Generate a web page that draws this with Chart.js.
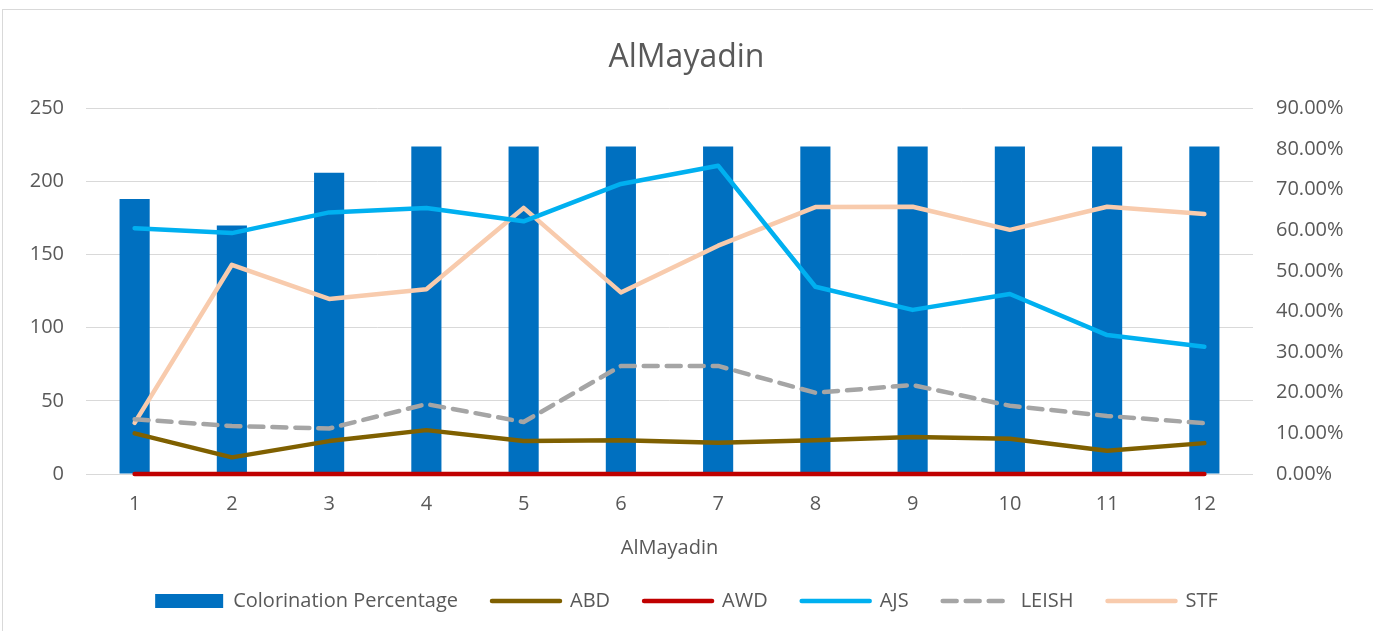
<!DOCTYPE html>
<html>
<head>
<meta charset="utf-8">
<script src="https://cdn.jsdelivr.net/npm/chart.js@4"></script>
<style>
	html, body { margin: 0; padding: 0; background: #fff; overflow: hidden; }
	#frame { position: absolute; left: 2px; top: 9px; width: 1400px; height: 700px; border: 1px solid #d9d9d9; }
	#myChart { position: absolute; left: 0; top: 0; }
</style>
</head>
<body>
<div id="frame"></div>
<canvas id="myChart" width="1373" height="631"></canvas>
<script>
// Chart data
var categories = ['1', '2', '3', '4', '5', '6', '7', '8', '9', '10', '11', '12'];
var colorination = [188, 170, 206, 224, 224, 224, 224, 224, 224, 224, 224, 224];
var abd = [10.0, 4.1, 8.1, 10.8, 8.1, 8.3, 7.7, 8.3, 9.1, 8.7, 5.7, 7.6];
var awd = [0, 0, 0, 0, 0, 0, 0, 0, 0, 0, 0, 0];
var ajs = [60.5, 59.3, 64.4, 65.5, 62.2, 71.4, 75.9, 46.1, 40.4, 44.3, 34.2, 31.3];
var leish = [13.5, 11.8, 11.2, 17.2, 12.8, 26.6, 26.6, 20.0, 21.9, 16.8, 14.3, 12.5];
var stf = [12.6, 51.5, 43.1, 45.5, 65.5, 44.7, 56.2, 65.7, 65.8, 60.1, 65.8, 64.0];
var leftTicks = [0, 50, 100, 150, 200, 250];
var rightMax = 90;

var textColor = '#595959';
var gridColor = '#d9d9d9';
var fontFamily = '"Open Sans", sans-serif';

function lineSet(label, data, color, dash) {
	return {
		type: 'line',
		label: label,
		data: data,
		yAxisID: 'y1',
		borderColor: color,
		backgroundColor: color,
		borderWidth: 4.5,
		borderDash: dash || [],
		borderCapStyle: 'round',
		borderJoinStyle: 'round',
		pointRadius: 0,
		pointHoverRadius: 0,
		tension: 0,
		clip: false,
		order: 0
	};
}

var ctx = document.getElementById('myChart').getContext('2d');
var myChart = new Chart(ctx, {
	type: 'bar',
	data: {
		labels: categories,
		datasets: [
			{
				type: 'bar',
				label: 'Colorination Percentage',
				data: colorination,
				yAxisID: 'y',
				backgroundColor: '#0070C0',
				borderWidth: 0,
				barPercentage: 0.31,
				categoryPercentage: 1,
				order: 1
			},
			lineSet('ABD', abd, '#7F6000'),
			lineSet('AWD', awd, '#C00000'),
			lineSet('AJS', ajs, '#00B0F0'),
			lineSet('LEISH', leish, '#A5A5A5', [14, 9]),
			lineSet('STF', stf, '#F8CBAD')
		]
	},
	options: {
		responsive: false,
		animation: false,
		devicePixelRatio: 1,
		layout: { padding: { left: 0, right: 0, top: 0, bottom: 10 } },
		plugins: {
			tooltip: { enabled: false },
			title: {
				display: true,
				text: 'AlMayadin',
				color: textColor,
				font: { family: fontFamily, size: 32, weight: 'normal' },
				padding: { top: 39, bottom: 31 }
			},
			legend: {
				position: 'bottom',
				labels: {
					usePointStyle: true,
					pointStyleWidth: 68,
					boxHeight: 14,
					padding: 34,
					color: textColor,
					font: { family: fontFamily, size: 20 },
					generateLabels: function (chart) {
						return chart.data.datasets.map(function (ds, i) {
							var isLine = ds.type === 'line';
							return {
								text: ds.label,
								datasetIndex: i,
								fillStyle: isLine ? ds.borderColor : ds.backgroundColor,
								strokeStyle: isLine ? ds.borderColor : ds.backgroundColor,
								lineWidth: isLine ? ds.borderWidth : 0,
								lineDash: ds.borderDash || [],
								lineCap: 'round',
								pointStyle: isLine ? 'line' : 'rect',
								fontColor: textColor,
								hidden: false
							};
						});
					}
				}
			}
		},
		scales: {
			x: {
				grid: { display: false, drawTicks: false },
				border: { display: false },
				ticks: { color: textColor, font: { family: fontFamily, size: 20 }, padding: 18 },
				title: {
					display: true,
					text: 'AlMayadin',
					color: textColor,
					font: { family: fontFamily, size: 20 },
					padding: { top: 2, bottom: -3 }
				}
			},
			y: {
				position: 'left',
				min: 0,
				max: 250,
				afterBuildTicks: function (scale) {
					scale.ticks = leftTicks.map(function (v) { return { value: v }; });
				},
				afterFit: function (scale) { scale.width = 86; },
				grid: { color: gridColor, lineWidth: 1, drawTicks: false },
				border: { display: false },
				ticks: { color: textColor, font: { family: fontFamily, size: 20 }, padding: 22 }
			},
			y1: {
				position: 'right',
				min: 0,
				max: rightMax,
				afterFit: function (scale) { scale.width = 120; },
				grid: { display: false, drawTicks: false },
				border: { display: false },
				ticks: {
					stepSize: 10,
					color: textColor,
					font: { family: fontFamily, size: 20 },
					padding: 23,
					callback: function (v) { return v.toFixed(2) + '%'; }
				}
			}
		}
	}
});
</script>
</body>
</html>
